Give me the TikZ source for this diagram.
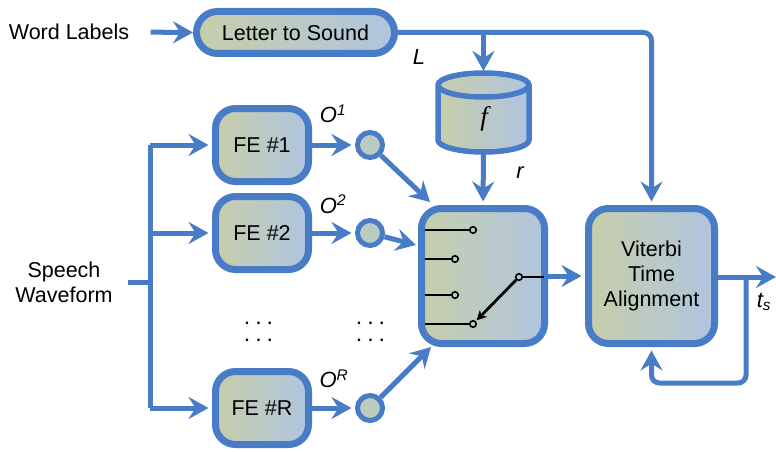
\documentclass[tikz,border=0pt]{standalone}
\usepackage{fontspec}
\setmainfont{Liberation Sans}
\newfontfamily\serifit{Liberation Serif}
\usetikzlibrary{arrows.meta,calc}
\definecolor{bl}{RGB}{72,124,198}
\definecolor{gl}{RGB}{198,206,170}
\definecolor{gr}{RGB}{176,197,224}

\begin{document}
\begin{tikzpicture}[x=1pt,y=-1pt,
  every node/.style={font=\fontsize{21.5}{25}\selectfont},
  blk/.style={draw=bl, line width=7pt, left color=gl, right color=gr,
    rounded corners=20pt, align=center, inner sep=0pt},
  conn/.style={draw=bl, line width=5pt},
  arr/.style={conn, -{Stealth[length=20pt,width=22pt,inset=7pt]}},
  arrb/.style={arr, shorten >=3.5pt},
  tap/.style={circle, draw=bl, line width=5pt, fill=gl!60!gr,
    minimum size=25pt, inner sep=0pt},
  lab/.style={font=\fontsize{22}{25}\selectfont\itshape},
  swl/.style={draw=black, line width=2.8pt},
  contact/.style={circle, draw=black, line width=1.6pt, fill=gl!50!gr,
    minimum size=6.5pt, inner sep=0pt},
  dots/.style={align=center, inner sep=0pt,
    font=\fontsize{16}{17}\bfseries\selectfont}
]
\fill[white] (0,0) rectangle (776,452);
\useasboundingbox (0,0) rectangle (776,452);

% blocks
\node (wl) at (69,32) {Word Labels};
\node[blk, rounded corners=21pt, minimum width=198pt, minimum height=42pt]
  (l2s) at (295.5,32.5) {Letter to Sound};
\node[align=center] (sp) at (64,282) {Speech\\Waveform};
\node[blk, minimum width=93pt, minimum height=73pt] (fe1) at (262,145) {FE \#1};
\node[blk, minimum width=93pt, minimum height=73pt] (fe2) at (262,233) {FE \#2};
\node[blk, minimum width=93pt, minimum height=73pt] (feR) at (262,408) {FE \#R};
\node[tap] (c1) at (370,145) {};
\node[tap] (c2) at (370,233) {};
\node[tap] (cR) at (370,408) {};
\node[blk, minimum width=123pt, minimum height=135pt] (sw) at (483,276) {};
\node[blk, minimum width=126pt, minimum height=135pt] (vit) at (651.5,276)
  {Viterbi\\Time\\Alignment};

% database cylinder
\draw[draw=bl, line width=5.5pt, left color=gl, right color=gr]
  (438,85) -- (438,140)
  arc[start angle=180, end angle=0, x radius=45.5, y radius=12]
  -- (529,85)
  arc[start angle=0, end angle=-180, x radius=45.5, y radius=12] -- cycle;
\draw[bl, line width=5.5pt] (438,85)
  arc[start angle=180, end angle=0, x radius=45.5, y radius=12];
\node (cyl) at (484,119) {\serifit\itshape\fontsize{27}{27}\selectfont f};
\coordinate (cyltop) at (483.5,71);
\coordinate (cylbot) at (483.5,154);

% labels
\node[lab] (lL) at (419,57) {L};
\node[lab] (lr) at (520,173) {r};
\node[lab] (o1) at (333,114) {O\textsuperscript{1}};
\node[lab] (o2) at (333,204) {O\textsuperscript{2}};
\node[lab] (oR) at (334,379) {O\textsuperscript{R}};
\node[lab] (ts) at (764,302) {t\textsubscript{s}};
\node[dots] (d1) at (258.5,331.5) {.\hspace{7pt}.\hspace{7pt}.\\.\hspace{7pt}.\hspace{7pt}.};
\node[dots] (d2) at (370.5,331.5) {.\hspace{7pt}.\hspace{7pt}.\\.\hspace{7pt}.\hspace{7pt}.};

% connector end points
\coordinate (br) at (cyltop |- l2s.east);
\coordinate (spout) at (128,282);
\coordinate (bus) at (150,282);
\coordinate (in1) at (430,202);
\coordinate (in2) at (416,245);
\coordinate (inR) at (431,347);
\coordinate (out) at (776,277);
\coordinate (fb) at (746,277);
\coordinate (fbl) at (746,383);

% connectors
\draw[arr, shorten <=18pt] (wl.east) -- (l2s.west);
\draw[arrb, rounded corners=8pt] (l2s.east) -| (vit.north);
\draw[arr] (br) -- (cyltop);
\draw[arrb] (cylbot) -- (sw.north);
\draw[conn] (spout) -- (bus);
\draw[conn, line cap=square] (bus |- fe1.west) -- (bus |- feR.west);
\draw[arrb] (bus |- fe1.west) -- (fe1.west);
\draw[arrb] (bus |- fe2.west) -- (fe2.west);
\draw[arrb] (bus |- feR.west) -- (feR.west);
\draw[arrb] (fe1.east) -- (c1.west);
\draw[arrb] (fe2.east) -- (c2.west);
\draw[arrb] (feR.east) -- (cR.west);
\draw[arr] (c1) -- (in1);
\draw[arr] (c2) -- (in2);
\draw[arr] (cR) -- (inR);
\draw[arrb] (sw.east) -- (vit.west);
\draw[arr] (vit.east |- out) -- (out);
\draw[arrb, rounded corners=8pt] (fb) -- (fbl) -| (vit.south);

% switch contacts
\begin{scope}[shift={(sw.center)}]
  \draw[swl] (-58,-46) -- (-10,-46) node[contact] (k1) {};
  \draw[swl] (-58,-17) -- (-28,-17) node[contact] (k2) {};
  \draw[swl] (-58,19) -- (-28,19) node[contact] (k3) {};
  \draw[swl] (-58,48) -- (-10,48) node[contact] (k4) {};
  \draw[swl] (61,1) -- (36,1) node[contact] (piv) {};
  \draw[swl, -{Stealth[length=10pt,width=10pt]}, shorten >=1pt] (piv) -- (k4);
\end{scope}
\end{tikzpicture}
\end{document}
